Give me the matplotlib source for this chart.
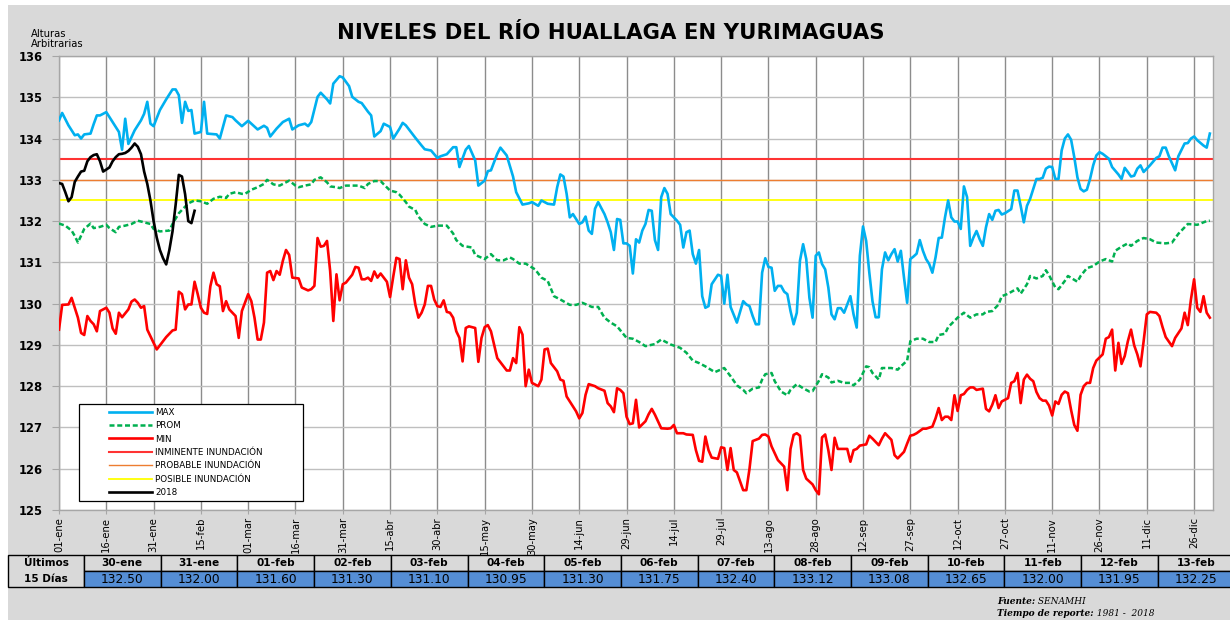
import matplotlib
matplotlib.use("Agg")
import matplotlib.pyplot as plt
from matplotlib.patches import Rectangle
from matplotlib.lines import Line2D
from matplotlib.legend_handler import HandlerLine2D

# etiquetas del eje x (cada 15 dias, año bisiesto)
etiquetas_x = ["01-ene", "16-ene", "31-ene", "15-feb", "01-mar", "16-mar", "31-mar",
               "15-abr", "30-abr", "15-may", "30-may", "14-jun", "29-jun", "14-jul",
               "29-jul", "13-ago", "28-ago", "12-sep", "27-sep", "12-oct", "27-oct",
               "11-nov", "26-nov", "11-dic", "26-dic"]

# MAX (dia del año, nivel)
max_dias = [0, 1, 3, 5, 6, 7, 8, 10, 11, 12, 13, 15, 17, 19, 20, 21, 22, 24, 26, 27, 28, 29, 30,
            32, 34, 36, 37, 38, 39, 40, 41, 42, 43, 45, 46, 47, 50, 51, 53, 55, 56, 58, 60, 63,
            65, 66, 67, 69, 71, 73, 74, 76, 78, 79, 80, 82, 83, 85, 86, 87, 89, 90, 92, 93, 95,
            96, 98, 99, 100, 102, 103, 105, 106, 108, 109, 110, 113, 115, 116, 118, 120, 121,
            123, 125, 126, 127, 129, 130, 132, 133, 135, 136, 137, 139, 140, 142, 144, 145, 147,
            149, 150, 152, 153, 155, 157, 158, 159, 160, 161, 162, 163, 165, 166, 167, 168, 169,
            170, 171, 173, 174, 175, 176, 177, 178, 179, 180, 181, 182, 183, 184, 185, 186, 187,
            188, 189, 190, 191, 192, 193, 194, 196, 197, 198, 199, 200, 201, 202, 203, 204, 205,
            206, 207, 209, 210, 211, 212, 213, 215, 217, 218, 219, 220, 221, 222, 223, 224, 225,
            226, 227, 228, 229, 230, 231, 232, 233, 234, 235, 236, 237, 238, 239, 240, 241, 242,
            243, 244, 245, 246, 247, 248, 249, 250, 251, 252, 253, 254, 255, 256, 257, 258, 259,
            260, 261, 262, 263, 264, 265, 266, 267, 268, 269, 270, 271, 272, 273, 274, 275, 276,
            277, 278, 279, 280, 281, 282, 283, 284, 285, 286, 287, 288, 289, 290, 291, 292, 293,
            294, 295, 296, 297, 298, 299, 300, 302, 303, 304, 305, 306, 307, 308, 309, 310, 311,
            312, 313, 314, 315, 316, 317, 318, 319, 320, 321, 322, 323, 324, 325, 326, 327, 328,
            329, 330, 331, 333, 334, 336, 337, 338, 339, 340, 341, 342, 343, 344, 345, 346, 348,
            349, 350, 351, 352, 354, 355, 357, 358, 359, 360, 361, 363, 364, 365]
max_nivel = [134.44, 134.62, 134.32, 134.08, 134.10, 134.00, 134.10, 134.12, 134.35, 134.56,
             134.56, 134.64, 134.40, 134.16, 133.73, 134.48, 133.87, 134.20, 134.44, 134.60,
             134.89, 134.36, 134.30, 134.69, 134.95, 135.19, 135.19, 135.05, 134.38, 134.89,
             134.67, 134.69, 134.12, 134.16, 134.89, 134.12, 134.10, 134.00, 134.56, 134.52,
             134.44, 134.30, 134.43, 134.22, 134.31, 134.26, 134.05, 134.24, 134.40, 134.48,
             134.22, 134.32, 134.36, 134.30, 134.40, 135.01, 135.11, 134.95, 134.85, 135.33,
             135.51, 135.48, 135.27, 135.01, 134.89, 134.86, 134.65, 134.56, 134.05, 134.18,
             134.36, 134.28, 134.00, 134.24, 134.38, 134.32, 134.02, 133.83, 133.74, 133.71,
             133.53, 133.57, 133.62, 133.79, 133.79, 133.31, 133.73, 133.82, 133.47, 132.86,
             132.98, 133.21, 133.23, 133.63, 133.78, 133.59, 133.08, 132.70, 132.40, 132.43,
             132.46, 132.37, 132.50, 132.42, 132.40, 132.82, 133.13, 133.08, 132.66, 132.09,
             132.17, 131.93, 131.97, 132.11, 131.77, 131.69, 132.30, 132.46, 132.17, 131.97,
             131.73, 131.30, 132.05, 132.03, 131.46, 131.46, 131.40, 130.73, 131.56, 131.48,
             131.77, 131.93, 132.27, 132.25, 131.54, 131.30, 132.58, 132.80, 132.66, 132.17,
             132.01, 131.91, 131.36, 131.73, 131.77, 131.20, 130.97, 131.30, 130.18, 129.90,
             129.94, 130.47, 130.70, 130.67, 130.00, 130.70, 129.92, 129.54, 130.06, 129.98,
             129.94, 129.70, 129.50, 129.50, 130.75, 131.10, 130.89, 130.87, 130.31, 130.43,
             130.43, 130.29, 130.23, 129.82, 129.50, 129.78, 131.04, 131.44, 131.08, 130.14,
             129.66, 131.16, 131.24, 130.96, 130.83, 130.39, 129.74, 129.62, 129.89, 129.89,
             129.78, 129.98, 130.18, 129.74, 129.42, 131.16, 131.87, 131.52, 130.75, 130.06,
             129.67, 129.67, 130.83, 131.24, 131.05, 131.20, 131.32, 131.02, 131.28, 130.63,
             130.02, 131.08, 131.14, 131.21, 131.54, 131.28, 131.08, 130.96, 130.75, 131.12,
             131.59, 131.60, 132.09, 132.50, 132.09, 131.99, 131.99, 131.81, 132.84, 132.58,
             131.40, 131.60, 131.76, 131.56, 131.40, 131.85, 132.17, 132.03, 132.25, 132.27,
             132.16, 132.19, 132.29, 132.74, 132.74, 132.37, 131.97, 132.37, 132.54, 132.78,
             133.02, 133.02, 133.05, 133.27, 133.32, 133.31, 133.02, 133.02, 133.71, 134.00,
             134.10, 133.97, 133.55, 133.06, 132.78, 132.72, 132.76, 133.02, 133.35, 133.59,
             133.67, 133.63, 133.51, 133.31, 133.13, 133.02, 133.29, 133.19, 133.08, 133.10,
             133.27, 133.35, 133.19, 133.27, 133.35, 133.53, 133.57, 133.78, 133.78, 133.57,
             133.23, 133.57, 133.88, 133.89, 134.00, 134.05, 133.96, 133.83, 133.78, 134.12]

# PROM
prom_dias = [0, 2, 4, 5, 6, 8, 10, 11, 13, 15, 16, 18, 19, 21, 23, 25, 27, 29, 30, 32, 35, 36,
             38, 39, 41, 43, 45, 47, 49, 51, 53, 54, 56, 58, 59, 61, 63, 65, 66, 68, 70, 72, 73,
             75, 76, 78, 80, 81, 83, 85, 86, 88, 89, 91, 93, 95, 97, 98, 100, 102, 103, 105, 107,
             108, 110, 111, 113, 114, 116, 118, 120, 123, 125, 126, 128, 131, 132, 135, 137, 139,
             141, 143, 144, 146, 148, 151, 153, 155, 157, 159, 162, 164, 166, 169, 171, 173, 175,
             177, 180, 182, 184, 186, 189, 191, 194, 197, 199, 201, 203, 205, 208, 211, 213, 215,
             217, 218, 220, 222, 223, 224, 226, 227, 229, 231, 232, 234, 236, 238, 239, 241, 242,
             244, 245, 247, 249, 251, 252, 254, 256, 257, 258, 260, 261, 264, 266, 267, 269, 270,
             272, 274, 276, 278, 279, 281, 282, 285, 287, 289, 291, 293, 294, 296, 298, 299, 301,
             304, 305, 307, 308, 310, 312, 313, 314, 316, 317, 319, 320, 323, 324, 326, 328, 330,
             332, 334, 335, 337, 339, 340, 342, 344, 346, 348, 351, 353, 355, 357, 358, 361, 363,
             364, 365]
prom_nivel = [131.94, 131.89, 131.77, 131.64, 131.48, 131.81, 131.94, 131.83, 131.86, 131.91,
              131.83, 131.73, 131.86, 131.89, 131.93, 132.01, 131.97, 131.93, 131.81, 131.75,
              131.77, 131.93, 132.19, 132.27, 132.43, 132.50, 132.48, 132.42, 132.54, 132.59,
              132.56, 132.66, 132.70, 132.66, 132.66, 132.76, 132.82, 132.90, 133.00, 132.89,
              132.86, 132.94, 132.98, 132.86, 132.82, 132.86, 132.89, 133.00, 133.06, 132.94,
              132.84, 132.82, 132.80, 132.86, 132.86, 132.86, 132.80, 132.90, 132.97, 132.97,
              132.89, 132.74, 132.70, 132.64, 132.46, 132.35, 132.27, 132.11, 131.93, 131.86,
              131.89, 131.89, 131.70, 131.54, 131.40, 131.36, 131.18, 131.08, 131.20, 131.05,
              131.05, 131.12, 131.08, 130.97, 130.97, 130.83, 130.63, 130.55, 130.18, 130.10,
              129.97, 129.97, 130.02, 129.92, 129.92, 129.66, 129.54, 129.45, 129.17, 129.15,
              129.07, 128.97, 129.02, 129.13, 129.01, 128.93, 128.81, 128.62, 128.56, 128.48,
              128.34, 128.44, 128.24, 128.02, 127.91, 127.83, 127.94, 127.97, 128.16, 128.29,
              128.32, 128.12, 127.87, 127.78, 127.91, 128.05, 127.95, 127.87, 127.88, 128.13,
              128.29, 128.21, 128.09, 128.13, 128.08, 128.08, 128.02, 128.16, 128.48, 128.46,
              128.32, 128.16, 128.44, 128.44, 128.40, 128.48, 128.62, 129.09, 129.15, 129.15,
              129.07, 129.07, 129.24, 129.27, 129.43, 129.66, 129.78, 129.66, 129.74, 129.74,
              129.80, 129.82, 129.98, 130.18, 130.24, 130.37, 130.24, 130.47, 130.67, 130.61,
              130.67, 130.81, 130.69, 130.39, 130.35, 130.55, 130.67, 130.53, 130.67, 130.86,
              130.91, 131.02, 131.08, 131.02, 131.28, 131.38, 131.46, 131.40, 131.52, 131.59,
              131.56, 131.48, 131.46, 131.48, 131.69, 131.85, 131.93, 131.91, 131.97, 132.00,
              132.01]

# MIN
min_dias = [0, 1, 3, 4, 6, 7, 8, 9, 10, 11, 12, 13, 15, 16, 17, 18, 19, 20, 22, 23, 24, 25, 26,
            27, 28, 30, 31, 33, 34, 36, 37, 38, 39, 40, 41, 42, 43, 44, 45, 46, 47, 48, 49, 50,
            51, 52, 53, 54, 56, 57, 58, 60, 61, 62, 63, 64, 65, 66, 67, 68, 69, 70, 71, 72, 73,
            74, 76, 77, 79, 80, 81, 82, 83, 84, 85, 86, 87, 88, 89, 90, 91, 93, 94, 95, 96, 97,
            98, 99, 100, 101, 102, 104, 105, 106, 107, 108, 109, 110, 111, 112, 113, 114, 115,
            116, 117, 118, 119, 120, 121, 122, 123, 124, 125, 126, 127, 128, 129, 130, 132, 133,
            134, 135, 136, 137, 139, 141, 142, 143, 144, 145, 146, 147, 148, 149, 150, 152, 153,
            154, 155, 156, 158, 159, 160, 161, 162, 164, 165, 166, 167, 168, 170, 171, 173, 174,
            175, 176, 177, 178, 179, 180, 181, 182, 183, 184, 186, 187, 188, 189, 191, 193, 194,
            195, 196, 198, 199, 201, 202, 203, 204, 205, 206, 207, 209, 210, 211, 212, 213, 214,
            215, 217, 218, 219, 220, 222, 223, 224, 225, 226, 228, 229, 230, 231, 232, 233, 234,
            235, 236, 237, 239, 240, 241, 242, 243, 244, 245, 246, 247, 249, 250, 251, 252, 253,
            254, 256, 257, 258, 260, 261, 262, 263, 264, 265, 266, 268, 269, 270, 271, 272, 274,
            275, 277, 278, 279, 280, 281, 282, 283, 284, 285, 286, 287, 288, 289, 290, 291, 293,
            294, 295, 296, 297, 298, 299, 301, 302, 303, 304, 305, 306, 307, 308, 309, 310, 311,
            312, 313, 314, 315, 316, 317, 318, 319, 320, 321, 322, 323, 324, 325, 326, 327, 328,
            329, 331, 332, 333, 334, 335, 336, 337, 338, 339, 340, 341, 342, 343, 344, 345, 346,
            348, 349, 350, 351, 353, 354, 356, 357, 358, 359, 360, 361, 362, 363, 364, 365]
min_nivel = [129.37, 129.97, 129.98, 130.14, 129.66, 129.29, 129.24, 129.70, 129.58, 129.50,
             129.33, 129.82, 129.90, 129.78, 129.40, 129.27, 129.78, 129.67, 129.86, 130.05,
             130.10, 130.02, 129.90, 129.94, 129.37, 129.05, 128.89, 129.09, 129.19, 129.35,
             129.37, 130.29, 130.23, 129.86, 129.98, 129.98, 130.53, 130.23, 129.90, 129.78,
             129.75, 130.42, 130.75, 130.47, 130.42, 129.82, 130.06, 129.86, 129.70, 129.17,
             129.82, 130.23, 130.06, 129.66, 129.13, 129.13, 129.54, 130.75, 130.79, 130.57,
             130.79, 130.70, 131.04, 131.30, 131.18, 130.63, 130.61, 130.39, 130.32, 130.35,
             130.43, 131.59, 131.38, 131.40, 131.52, 130.79, 129.58, 130.71, 130.08, 130.47,
             130.51, 130.70, 130.89, 130.87, 130.59, 130.59, 130.63, 130.55, 130.78, 130.63,
             130.73, 130.53, 130.16, 130.65, 131.11, 131.08, 130.35, 131.05, 130.63, 130.47,
             129.98, 129.66, 129.78, 129.98, 130.43, 130.43, 130.10, 129.94, 129.92, 130.08,
             129.80, 129.78, 129.66, 129.33, 129.17, 128.60, 129.41, 129.45, 129.41, 128.59,
             129.17, 129.43, 129.48, 129.33, 128.68, 128.48, 128.38, 128.38, 128.68, 128.56,
             129.43, 129.25, 128.00, 128.40, 128.08, 128.00, 128.16, 128.89, 128.91, 128.56,
             128.36, 128.16, 128.13, 127.75, 127.63, 127.39, 127.22, 127.35, 127.79, 128.05,
             128.00, 127.95, 127.89, 127.59, 127.51, 127.37, 127.95, 127.91, 127.83, 127.26,
             127.08, 127.10, 127.67, 127.00, 127.15, 127.32, 127.45, 127.31, 126.98, 126.97,
             126.98, 127.06, 126.86, 126.86, 126.83, 126.82, 126.45, 126.19, 126.17, 126.78,
             126.45, 126.27, 126.24, 126.52, 126.50, 125.97, 126.50, 125.97, 125.91, 125.48,
             125.48, 126.00, 126.67, 126.73, 126.82, 126.83, 126.78, 126.54, 126.21, 126.13,
             126.05, 125.48, 126.48, 126.82, 126.86, 126.80, 125.97, 125.76, 125.62, 125.48,
             125.38, 126.76, 126.83, 126.45, 125.97, 126.75, 126.48, 126.48, 126.48, 126.17,
             126.45, 126.48, 126.56, 126.59, 126.80, 126.73, 126.57, 126.73, 126.86, 126.78,
             126.70, 126.33, 126.25, 126.41, 126.61, 126.80, 126.82, 126.86, 126.97, 126.97,
             127.02, 127.22, 127.47, 127.18, 127.26, 127.26, 127.18, 127.78, 127.40, 127.78,
             127.81, 127.91, 127.97, 127.97, 127.91, 127.94, 127.45, 127.39, 127.55, 127.78,
             127.47, 127.63, 127.71, 128.08, 128.12, 128.32, 127.59, 128.16, 128.28, 128.18,
             128.12, 127.86, 127.71, 127.65, 127.65, 127.53, 127.29, 127.63, 127.57, 127.79,
             127.87, 127.83, 127.42, 127.06, 126.92, 127.79, 128.00, 128.08, 128.08, 128.44,
             128.62, 128.77, 129.15, 129.19, 129.37, 128.38, 129.05, 128.54, 128.73, 129.09,
             129.37, 128.99, 128.77, 128.48, 129.09, 129.74, 129.80, 129.78, 129.70, 129.43,
             129.19, 128.97, 129.17, 129.40, 129.78, 129.48, 130.10, 130.59, 129.90, 129.80,
             130.18, 129.78, 129.66]

# umbrales de alerta
umbral_inminente = 133.5
umbral_probable = 133.0
umbral_posible = 132.5

nivel_2018_ini = [132.92, 132.90, 132.70, 132.48, 132.58, 132.95, 133.08, 133.20, 133.22, 133.45,
                  133.55, 133.60, 133.62, 133.45, 133.20, 133.25, 133.30, 133.45, 133.55, 133.62,
                  133.63, 133.65, 133.70, 133.78, 133.88, 133.80, 133.62, 133.20, 132.90]
tabla_fechas = ["30-ene", "31-ene", "01-feb", "02-feb", "03-feb", "04-feb", "05-feb", "06-feb",
                "07-feb", "08-feb", "09-feb", "10-feb", "11-feb", "12-feb", "13-feb"]
tabla_niveles = [132.50, 132.00, 131.60, 131.30, 131.10, 130.95, 131.30, 131.75,
                 132.40, 133.12, 133.08, 132.65, 132.00, 131.95, 132.25]

nivel_2018 = nivel_2018_ini + tabla_niveles
dias_2018 = list(range(len(nivel_2018)))


fig = plt.figure(figsize=(12.3, 6.2), dpi=100, facecolor="white")

# fondo gris y elementos en pixeles
bg = fig.add_axes([0, 0, 1, 1])
bg.set_xlim(0, 1230)
bg.set_ylim(620, 0)
bg.axis("off")
bg.add_patch(Rectangle((8, 5), 1222, 615, facecolor="#d9d9d9", edgecolor="none"))

bg.text(611, 33, "NIVELES DEL RÍO HUALLAGA EN YURIMAGUAS", ha="center", va="center",
        fontsize=15.3, fontweight="bold")
bg.text(31, 39, "Alturas\nArbitrarias", ha="left", va="center", fontsize=7.2, linespacing=0.95)

# grafico principal
ax = fig.add_axes([59 / 1230, 110 / 620, 1154 / 1230, 454 / 620])
ax.set_facecolor("white")

ax.plot(max_dias, max_nivel, color="#00b0f0", lw=1.9, label="MAX", zorder=3)
ax.plot(prom_dias, prom_nivel, color="#00b050", lw=1.8, dashes=(2.0, 1.1), label="PROM", zorder=3)
ax.plot(min_dias, min_nivel, color="#ff0000", lw=1.9, label="MIN", zorder=3)
ax.axhline(umbral_inminente, color="#ff3333", lw=1.5, label="INMINENTE INUNDACIÓN", zorder=2)
ax.axhline(umbral_probable, color="#ed7d31", lw=1.0, label="PROBABLE INUNDACIÓN", zorder=2)
ax.axhline(umbral_posible, color="#ffff00", lw=1.3, label="POSIBLE INUNDACIÓN", zorder=2)
ax.plot(dias_2018, nivel_2018, color="black", lw=1.9, label="2018", zorder=4)

ax.set_xlim(0, 366)
ax.set_ylim(125, 136)
ax.set_xticks(range(0, 361, 15))
ax.set_xticklabels(etiquetas_x, rotation=90, fontsize=7.2)
ax.set_yticks(range(125, 137))
ax.set_yticklabels([str(v) for v in range(125, 137)], fontsize=8.3, fontweight="bold")

ax.grid(axis="x", color="#8c8c8c", lw=1.0, zorder=1)
ax.grid(axis="y", color="#bfbfbf", lw=1.0, zorder=1)
ax.set_axisbelow(True)
for s in ax.spines.values():
    s.set_color("#a6a6a6")
    s.set_linewidth(1.0)
ax.tick_params(axis="y", length=5, color="#a6a6a6", pad=7)
ax.tick_params(axis="x", length=3, color="#a6a6a6", pad=2)

leg = ax.legend(loc="upper left", bbox_to_anchor=(0.0173, 0.0271, 0.1939, 0.2057),
                mode="expand", borderaxespad=0, fontsize=6.3, frameon=True, fancybox=False,
                edgecolor="black", framealpha=1, borderpad=0.4, handlelength=7.9,
                handletextpad=0.4, labelspacing=0.50,
                handler_map={Line2D: HandlerLine2D(xpad=3.0)})
leg.get_frame().set_linewidth(0.9)

# tabla de los ultimos 15 dias
bg.add_patch(Rectangle((8, 555), 76, 32, facecolor="#d9d9d9", edgecolor="black", lw=1))
bg.text(46, 563, "Últimos", ha="center", va="center", fontsize=7.6, fontweight="bold")
bg.text(46, 579, "15 Días", ha="center", va="center", fontsize=7.6, fontweight="bold")
for i, (f, v) in enumerate(zip(tabla_fechas, tabla_niveles)):
    x = 84 + i * 76.7
    bg.add_patch(Rectangle((x, 555), 76.7, 16, facecolor="#d9d9d9", edgecolor="black", lw=1))
    bg.add_patch(Rectangle((x, 571), 76.7, 16, facecolor="#558ed5", edgecolor="black", lw=1))
    bg.text(x + 38.3, 563, f, ha="center", va="center", fontsize=7.6, fontweight="bold")
    bg.text(x + 38.3, 579.5, f"{v:.2f}", ha="center", va="center", fontsize=8.8)

# fuente
t1 = bg.text(997, 601, "Fuente:", ha="left", va="center", fontsize=6.5,
             family="DejaVu Serif", style="italic", fontweight="bold")
bg.annotate(" SENAMHI", xy=(1, 0.5), xycoords=t1, ha="left", va="center", fontsize=6.5,
            family="DejaVu Serif", style="italic")
t2 = bg.text(997, 613, "Tiempo de reporte:", ha="left", va="center", fontsize=6.5,
             family="DejaVu Serif", style="italic", fontweight="bold")
bg.annotate(" 1981 -  2018", xy=(1, 0.5), xycoords=t2, ha="left", va="center", fontsize=6.5,
            family="DejaVu Serif", style="italic")

fig.savefig("out.png", dpi=100)
